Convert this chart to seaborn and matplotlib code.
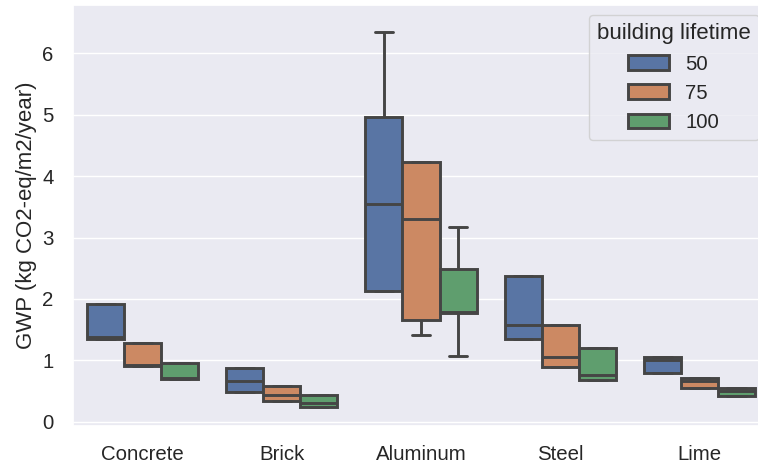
import matplotlib
matplotlib.use("Agg")
import matplotlib.pyplot as plt
import pandas as pd
import seaborn as sns

# Materials on the x axis and the building lifetimes used as hue
materials = ["Concrete", "Brick", "Aluminum", "Steel", "Lime"]
lifetimes = ["50", "75", "100"]

# GWP scenario results (kg CO2-eq/m2/year), five scenarios per material
gwp_50 = [
    [1.345, 1.345, 1.38, 1.91, 1.91],   # Concrete
    [0.49, 0.49, 0.66, 0.87, 0.87],     # Brick
    [2.13, 2.13, 3.54, 4.96, 6.35],     # Aluminum
    [1.345, 1.345, 1.575, 2.37, 2.37],  # Steel
    [0.80, 0.80, 1.005, 1.06, 1.06],    # Lime
]
gwp_75 = [
    [0.90, 0.90, 0.93, 1.275, 1.275],
    [0.33, 0.33, 0.435, 0.58, 0.58],
    [1.42, 1.66, 3.30, 4.23, 4.23],
    [0.895, 0.895, 1.05, 1.575, 1.575],
    [0.545, 0.545, 0.66, 0.715, 0.715],
]
gwp_100 = [
    [0.69, 0.69, 0.72, 0.96, 0.96],
    [0.245, 0.245, 0.31, 0.43, 0.43],
    [1.07, 1.77, 1.79, 2.49, 3.18],
    [0.68, 0.68, 0.76, 1.205, 1.205],
    [0.42, 0.42, 0.50, 0.555, 0.555],
]

rows = []
for life, series in zip(lifetimes, [gwp_50, gwp_75, gwp_100]):
    for mat, values in zip(materials, series):
        for v in values:
            rows.append({"material": mat, "building lifetime": life, "gwp": v})
df = pd.DataFrame(rows)

sns.set_theme(style="darkgrid", context="notebook", font_scale=1.333)
plt.rcParams["font.family"] = ["Liberation Sans", "DejaVu Sans"]

fig = plt.figure(figsize=(7.58, 4.65), dpi=100)
ax = fig.add_axes([73 / 758, 39 / 465, 696 / 758, 421 / 465])

sns.boxplot(
    data=df, x="material", y="gwp", hue="building lifetime",
    order=materials, hue_order=lifetimes, palette="deep",
    linewidth=2.1, linecolor=".27", ax=ax,
)

ax.set_ylim(-0.07, 6.79)
ax.set_xlabel("")
ax.set_ylabel("GWP (kg CO2-eq/m2/year)")
ax.tick_params(axis="both", pad=8)
sns.move_legend(ax, "upper right", title="building lifetime")

fig.savefig("out.png", dpi=100)
